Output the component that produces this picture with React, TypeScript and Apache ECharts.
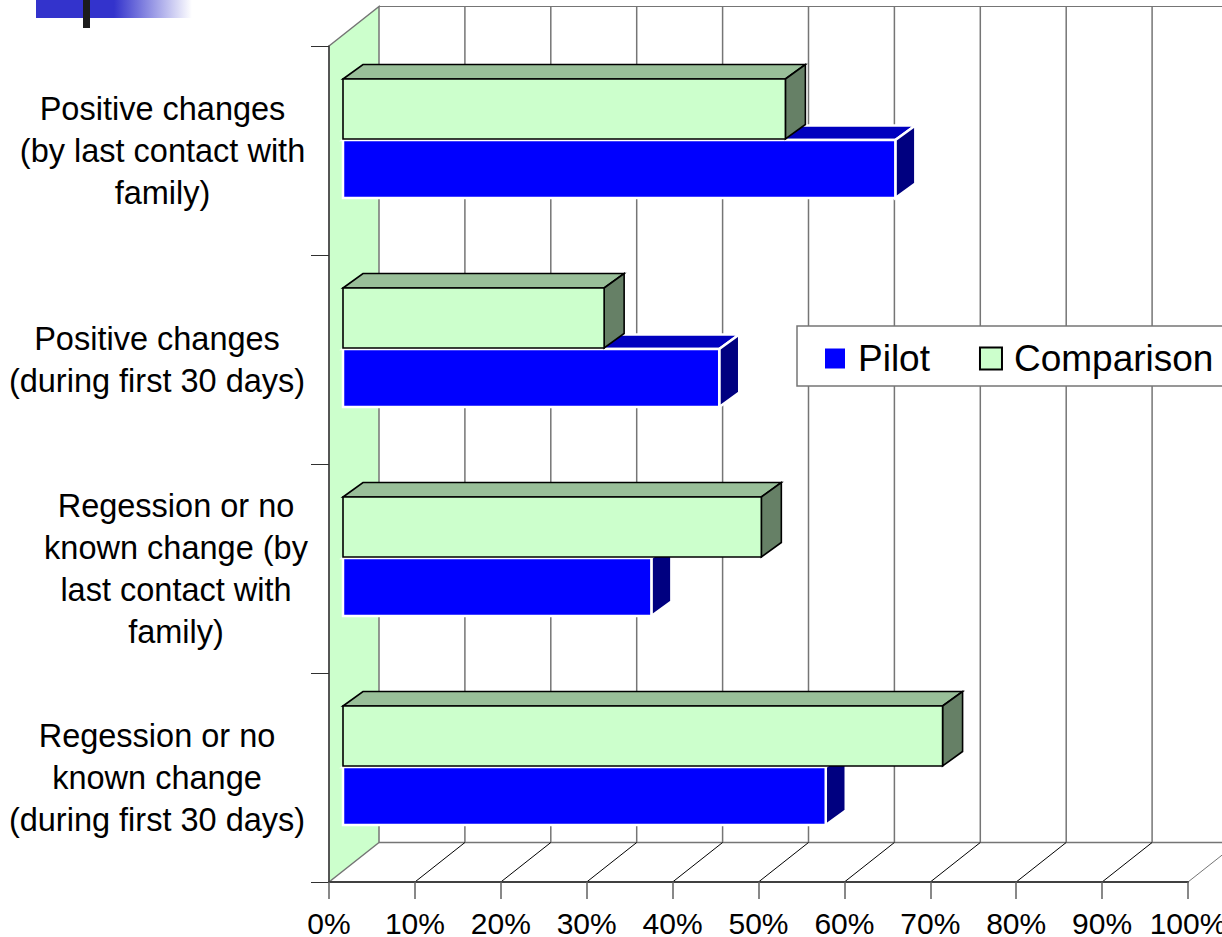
import React, { useEffect, useRef } from "react";
import * as echarts from "echarts";

const categories = [
  "Positive changes\n(by last contact with\nfamily)",
  "Positive changes\n(during first 30 days)",
  "Regession or no\nknown change (by\nlast contact with\nfamily)",
  "Regession or no\nknown change\n(during first 30 days)",
];
const pilotValues = [64.3, 43.8, 35.9, 56.2];
const comparisonValues = [51.5, 30.4, 48.7, 69.8];
const axisTicks = [0, 10, 20, 30, 40, 50, 60, 70, 80, 90, 100];
const seriesNames = ["Pilot", "Comparison"];

const labelShiftX = [5.5, 0, 19, 0];
const labelShiftY = [2, 1, 0, 1];
const FONT = "Liberation Sans";
const WALL_DX = 50;
const WALL_DY = -39.5;
const BAR_DX = 14;
const BAR_DY = -11.5;
const DEPTH_DX = 20;
const DEPTH_DY = -14.5;
const GRID_GREY = "#757575";

const barRenderer = (kind: "pilot" | "comparison") => (_p: any, api: any) => {
  const cat = api.value(1);
  const base = api.coord([0, cat]);
  const end = api.coord([api.value(0), cat]);
  const x0 = base[0] + BAR_DX;
  const x1 = end[0] + BAR_DX;
  const mid = base[1] + BAR_DY;
  const isPilot = kind === "pilot";
  const yTop = isPilot ? mid + 1 : mid - 60;
  const yBot = isPilot ? mid + 59 : mid;
  const stroke = isPilot ? "#ffffff" : "#000000";
  const lineWidth = isPilot ? 2.5 : 1.6;
  return {
    type: "group",
    children: [
      {
        type: "polygon",
        shape: { points: [[x0, yTop], [x0 + DEPTH_DX, yTop + DEPTH_DY], [x1 + DEPTH_DX, yTop + DEPTH_DY], [x1, yTop]] },
        style: { fill: isPilot ? "#0000BF" : "#99BF99", stroke, lineWidth },
      },
      {
        type: "polygon",
        shape: { points: [[x1, yTop], [x1 + DEPTH_DX, yTop + DEPTH_DY], [x1 + DEPTH_DX, yBot + DEPTH_DY], [x1, yBot]] },
        style: { fill: isPilot ? "#000080" : "#668066", stroke, lineWidth },
      },
      {
        type: "rect",
        shape: { x: x0, y: yTop, width: x1 - x0, height: yBot - yTop },
        style: { fill: isPilot ? "#0000FF" : "#CCFFCC", stroke, lineWidth },
      },
    ],
  };
};

const frameRenderer = (params: any, api: any) => {
  const v = api.value(0);
  const sys = params.coordSys;
  const top = sys.y;
  const bottom = sys.y + sys.height;
  const x = api.coord([v, 0])[0];
  const children: any[] = [];
  if (v === 0) {
    children.push({
      type: "polygon",
      shape: { points: [[x, top], [x + WALL_DX, top + WALL_DY], [x + WALL_DX, bottom + WALL_DY], [x, bottom]] },
      style: { fill: "#CCFFCC", stroke: GRID_GREY, lineWidth: 1.5 },
    });
    children.push({
      type: "line",
      shape: { x1: x + WALL_DX, y1: top + WALL_DY, x2: x + WALL_DX + sys.width, y2: top + WALL_DY },
      style: { stroke: GRID_GREY, lineWidth: 1 },
    });
    children.push({
      type: "line",
      shape: { x1: x + WALL_DX, y1: bottom + WALL_DY, x2: x + WALL_DX + sys.width, y2: bottom + WALL_DY },
      style: { stroke: GRID_GREY, lineWidth: 1.5 },
    });
  } else {
    children.push({
      type: "line",
      shape: { x1: x + WALL_DX, y1: top + WALL_DY, x2: x + WALL_DX, y2: bottom + WALL_DY },
      style: { stroke: GRID_GREY, lineWidth: 1.5 },
    });
    children.push({
      type: "line",
      shape: { x1: x, y1: bottom, x2: x + WALL_DX, y2: bottom + WALL_DY },
      style: { stroke: v === 100 ? GRID_GREY : "#000000", lineWidth: 1 },
    });
  }
  return { type: "group", children };
};

export default function App() {
  const ref = useRef<HTMLDivElement>(null);
  useEffect(() => {
    const chart = echarts.init(ref.current!, undefined, { renderer: "svg" });
    chart.setOption({
      animation: false,
      backgroundColor: "#ffffff",
      textStyle: { fontFamily: FONT },
      grid: { left: 329, right: 34, top: 46, bottom: 55, containLabel: false, outerBoundsMode: "none" },
      xAxis: {
        type: "value",
        min: 0,
        max: 100,
        interval: 10,
        z: 5,
        splitLine: { show: false },
        axisLine: { show: true, lineStyle: { color: "#404040", width: 2 } },
        axisTick: { show: true, length: 17, lineStyle: { color: "#606060", width: 1.5 } },
        axisLabel: {
          formatter: "{value}%",
          color: "#000000",
          fontFamily: FONT,
          fontSize: 30,
          lineHeight: 24,
          margin: 29,
          hideOverlap: false,
          showMaxLabel: true,
          showMinLabel: true,
        },
      },
      yAxis: {
        type: "category",
        inverse: true,
        z: 5,
        data: categories.map((value, i) => ({
          value,
          textStyle: { align: "center", padding: [labelShiftY[i] * 2, 0, 0, labelShiftX[i] * 2] },
        })),
        splitLine: { show: false },
        axisLine: { show: true, lineStyle: { color: "#404040", width: 1.5 } },
        axisTick: { show: true, length: 18, lineStyle: { color: "#303030", width: 1 } },
        axisLabel: {
          interval: 0,
          color: "#000000",
          fontFamily: FONT,
          fontSize: 32.5,
          lineHeight: 42,
          align: "center",
          margin: 172,
        },
      },
      legend: {
        data: [
          { name: seriesNames[0], itemStyle: { color: "#0000FF", borderColor: "#ffffff", borderWidth: 2 } },
          { name: seriesNames[1], itemStyle: { color: "#CCFFCC", borderColor: "#000000", borderWidth: 2 } },
        ],
        left: 797,
        top: 326,
        width: 440,
        orient: "horizontal",
        icon: "rect",
        itemWidth: 22,
        itemHeight: 22,
        itemGap: 49,
        padding: [14, 25, 9, 26],
        backgroundColor: "#ffffff",
        borderColor: GRID_GREY,
        borderWidth: 1.5,
        selectedMode: false,
        textStyle: { color: "#000000", fontFamily: FONT, fontSize: 37, padding: [2, 0, 0, 7] },
      },
      graphic: [
        {
          type: "rect",
          shape: { x: 36, y: 0, width: 156, height: 18 },
          style: {
            fill: new echarts.graphic.LinearGradient(0, 0, 1, 0, [
              { offset: 0, color: "#3333CC" },
              { offset: 0.5, color: "#3333CC" },
              { offset: 1, color: "#ffffff" },
            ]),
          },
        },
        { type: "rect", shape: { x: 83, y: 0, width: 7, height: 28 }, style: { fill: "#1c1c1c" } },
      ],
      series: [
        {
          type: "custom",
          name: "frame",
          renderItem: frameRenderer,
          data: axisTicks.map((t) => [t, 0]),
          encode: { x: 0, y: 1 },
          silent: true,
          z: 1,
        },
        {
          type: "custom",
          name: seriesNames[0],
          renderItem: barRenderer("pilot"),
          data: pilotValues.map((v, i) => [v, i]),
          encode: { x: 0, y: 1 },
          itemStyle: { color: "#0000FF" },
          z: 2,
        },
        {
          type: "custom",
          name: seriesNames[1],
          renderItem: barRenderer("comparison"),
          data: comparisonValues.map((v, i) => [v, i]),
          encode: { x: 0, y: 1 },
          itemStyle: { color: "#CCFFCC" },
          z: 3,
        },
      ],
    });
    return () => chart.dispose();
  }, []);
  return (
    <div
      ref={ref}
      style={{ position: "fixed", left: 0, top: 0, width: 1222, height: 937, overflow: "hidden" }}
    />
  );
}
